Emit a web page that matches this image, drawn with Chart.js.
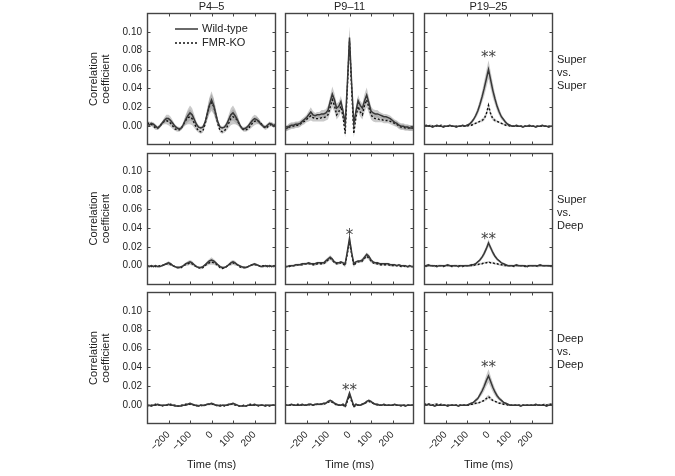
<!DOCTYPE html>
<html>
<head>
<meta charset="utf-8">
<script src="https://cdn.jsdelivr.net/npm/chart.js@4.4.1/dist/chart.umd.min.js"></script>
<style>
  html, body { margin: 0; padding: 0; background: #fff; }
  #wrap { position: relative; width: 675px; height: 476px; }
  #wrap canvas { position: absolute; left: 0; top: 0; }
</style>
</head>
<body>
<div id="wrap"></div>
<script>
// lag axis, shared by every panel
const timeMs = [
  -300, -290, -280, -270, -260, -250, -240, -230, -220, -210,
  -200, -190, -180, -170, -160, -150, -140, -130, -120, -110,
  -100, -90, -80, -70, -60, -50, -40, -30, -20, -10,
  0, 10, 20, 30, 40, 50, 60, 70, 80, 90,
  100, 110, 120, 130, 140, 150, 160, 170, 180, 190,
  200, 210, 220, 230, 240, 250, 260, 270, 280, 290,
  300
];
const xTicks = [-200, -100, 0, 100, 200];
const yTicks = [0, 0.02, 0.04, 0.06, 0.08, 0.10];
const ageGroups = ['P4–5', 'P9–11', 'P19–25'];
const pairings = [['Super', 'vs.', 'Super'], ['Super', 'vs.', 'Deep'], ['Deep', 'vs.', 'Deep']];
const seriesNames = ['Wild-type', 'FMR-KO'];

// --- Super vs. Super ---
const wtP45SupSup = [
  0.002, 0.001, 0.003, 0.002, 0.000, -0.002, 0.000, 0.003, 0.006, 0.008,
  0.008, 0.006, 0.003, 0.000, -0.002, -0.003, -0.002, 0.002, 0.007, 0.011,
  0.014, 0.012, 0.007, 0.002, -0.001, -0.002, -0.001, 0.004, 0.013, 0.022,
  0.028, 0.022, 0.013, 0.004, -0.001, -0.002, -0.001, 0.002, 0.007, 0.012,
  0.014, 0.011, 0.007, 0.002, -0.002, -0.003, -0.002, 0.000, 0.003, 0.006,
  0.008, 0.007, 0.005, 0.002, 0.000, -0.001, 0.001, 0.003, 0.002, 0.000,
  0.002
];
const koP45SupSup = [
  0.003, 0.003, 0.002, 0.000, -0.002, -0.002, 0.000, 0.003, 0.005, 0.006,
  0.005, 0.003, 0.000, -0.003, -0.004, -0.004, -0.002, 0.002, 0.006, 0.009,
  0.010, 0.008, 0.003, -0.002, -0.005, -0.006, -0.005, 0.002, 0.012, 0.021,
  0.025, 0.021, 0.012, 0.002, -0.005, -0.006, -0.005, -0.002, 0.003, 0.008,
  0.010, 0.009, 0.006, 0.002, -0.002, -0.004, -0.004, -0.003, 0.000, 0.003,
  0.005, 0.006, 0.005, 0.003, 0.000, -0.002, -0.001, 0.001, 0.002, 0.001,
  0.001
];
const semP45SupSup = [
  0.002, 0.002, 0.002, 0.002, 0.002, 0.002, 0.002, 0.002, 0.003, 0.004,
  0.004, 0.004, 0.003, 0.002, 0.002, 0.002, 0.002, 0.003, 0.005, 0.007,
  0.008, 0.007, 0.005, 0.003, 0.002, 0.002, 0.002, 0.003, 0.006, 0.008,
  0.009, 0.008, 0.006, 0.003, 0.002, 0.002, 0.002, 0.003, 0.005, 0.007,
  0.008, 0.007, 0.005, 0.003, 0.002, 0.002, 0.002, 0.002, 0.003, 0.004,
  0.004, 0.004, 0.003, 0.002, 0.002, 0.002, 0.002, 0.002, 0.002, 0.002,
  0.002
];
const wtP911SupSup = [
  -0.003, -0.002, 0.000, 0.001, 0.001, 0.002, 0.002, 0.003, 0.005, 0.007,
  0.009, 0.012, 0.015, 0.012, 0.011, 0.012, 0.012, 0.013, 0.013, 0.014,
  0.017, 0.026, 0.034, 0.028, 0.019, 0.021, 0.026, 0.016, 0.002, 0.045,
  0.094, 0.045, 0.002, 0.016, 0.027, 0.022, 0.019, 0.027, 0.033, 0.025,
  0.016, 0.014, 0.013, 0.013, 0.012, 0.011, 0.010, 0.010, 0.009, 0.008,
  0.006, 0.004, 0.003, 0.001, 0.000, 0.000, -0.001, -0.001, -0.002, -0.002,
  -0.002
];
const koP911SupSup = [
  -0.003, -0.002, -0.001, 0.000, 0.000, 0.001, 0.001, 0.002, 0.004, 0.005,
  0.007, 0.009, 0.011, 0.009, 0.008, 0.008, 0.008, 0.009, 0.009, 0.010,
  0.012, 0.020, 0.028, 0.022, 0.012, 0.015, 0.021, 0.010, -0.008, 0.040,
  0.090, 0.040, -0.008, 0.010, 0.021, 0.015, 0.012, 0.022, 0.028, 0.020,
  0.012, 0.009, 0.008, 0.008, 0.007, 0.007, 0.006, 0.006, 0.006, 0.005,
  0.004, 0.003, 0.002, 0.000, -0.001, -0.001, -0.002, -0.002, -0.002, -0.002,
  -0.002
];
const semP911SupSup = [
  0.003, 0.003, 0.003, 0.003, 0.003, 0.003, 0.003, 0.003, 0.003, 0.003,
  0.003, 0.004, 0.005, 0.004, 0.003, 0.003, 0.003, 0.004, 0.004, 0.004,
  0.005, 0.006, 0.008, 0.007, 0.005, 0.005, 0.006, 0.005, 0.004, 0.008,
  0.012, 0.008, 0.004, 0.005, 0.006, 0.005, 0.005, 0.007, 0.008, 0.006,
  0.005, 0.004, 0.004, 0.004, 0.003, 0.003, 0.003, 0.003, 0.003, 0.003,
  0.003, 0.003, 0.003, 0.003, 0.003, 0.003, 0.003, 0.003, 0.003, 0.003,
  0.003
];
const wtP1925SupSup = [
  0.000, 0.001, 0.000, 0.000, -0.001, 0.000, 0.001, 0.000, 0.000, -0.001,
  0.000, 0.000, 0.001, 0.000, 0.000, -0.001, 0.000, 0.000, 0.001, 0.000,
  0.001, 0.002, 0.004, 0.007, 0.011, 0.016, 0.023, 0.031, 0.040, 0.050,
  0.060, 0.049, 0.038, 0.029, 0.021, 0.015, 0.010, 0.007, 0.004, 0.002,
  0.001, 0.000, 0.000, 0.001, 0.000, 0.000, -0.001, 0.000, 0.000, 0.001,
  0.000, 0.000, -0.001, 0.000, 0.000, 0.001, 0.000, 0.000, -0.001, 0.000,
  0.000
];
const koP1925SupSup = [
  0.000, 0.000, 0.000, 0.001, 0.000, 0.000, 0.000, 0.000, 0.001, 0.000,
  0.000, 0.000, 0.000, 0.000, 0.000, 0.000, 0.000, 0.000, 0.000, 0.000,
  0.000, 0.001, 0.001, 0.002, 0.003, 0.004, 0.005, 0.006, 0.008, 0.013,
  0.022, 0.013, 0.008, 0.006, 0.005, 0.004, 0.003, 0.002, 0.001, 0.001,
  0.000, 0.000, 0.000, 0.000, 0.000, 0.000, 0.000, 0.000, 0.000, 0.000,
  0.000, 0.000, 0.000, 0.000, 0.000, 0.000, 0.000, 0.000, 0.000, 0.000,
  0.000
];
const semWtP1925SupSup = [
  0.001, 0.001, 0.001, 0.001, 0.001, 0.001, 0.001, 0.001, 0.001, 0.001,
  0.001, 0.001, 0.001, 0.001, 0.001, 0.001, 0.001, 0.001, 0.001, 0.001,
  0.001, 0.001, 0.002, 0.002, 0.003, 0.004, 0.005, 0.006, 0.008, 0.009,
  0.010, 0.009, 0.008, 0.006, 0.005, 0.004, 0.003, 0.002, 0.002, 0.001,
  0.001, 0.001, 0.001, 0.001, 0.001, 0.001, 0.001, 0.001, 0.001, 0.001,
  0.001, 0.001, 0.001, 0.001, 0.001, 0.001, 0.001, 0.001, 0.001, 0.001,
  0.001
];
const semKoP1925SupSup = [
  0.001, 0.001, 0.001, 0.001, 0.001, 0.001, 0.001, 0.001, 0.001, 0.001,
  0.001, 0.001, 0.001, 0.001, 0.001, 0.001, 0.001, 0.001, 0.001, 0.001,
  0.001, 0.001, 0.001, 0.001, 0.001, 0.001, 0.001, 0.002, 0.002, 0.003,
  0.004, 0.003, 0.002, 0.002, 0.001, 0.001, 0.001, 0.001, 0.001, 0.001,
  0.001, 0.001, 0.001, 0.001, 0.001, 0.001, 0.001, 0.001, 0.001, 0.001,
  0.001, 0.001, 0.001, 0.001, 0.001, 0.001, 0.001, 0.001, 0.001, 0.001,
  0.001
];

// --- Super vs. Deep ---
const wtP45SupDeep = [
  0.000, -0.001, 0.000, -0.001, 0.000, -0.001, -0.001, 0.000, 0.001, 0.002,
  0.003, 0.002, 0.000, -0.001, -0.002, -0.002, -0.001, 0.000, 0.002, 0.003,
  0.004, 0.003, 0.001, -0.001, -0.002, -0.002, -0.001, 0.001, 0.003, 0.005,
  0.006, 0.005, 0.003, 0.001, -0.001, -0.002, -0.002, -0.001, 0.001, 0.003,
  0.004, 0.003, 0.001, 0.000, -0.001, -0.002, -0.002, -0.001, 0.000, 0.001,
  0.002, 0.001, 0.000, -0.001, -0.001, 0.000, -0.001, 0.000, -0.001, 0.000,
  0.000
];
const koP45SupDeep = [
  -0.001, 0.000, -0.001, 0.000, -0.001, -0.001, 0.000, 0.000, 0.001, 0.002,
  0.002, 0.001, 0.000, -0.001, -0.002, -0.002, -0.002, 0.000, 0.001, 0.002,
  0.003, 0.002, 0.000, -0.001, -0.002, -0.003, -0.002, 0.000, 0.002, 0.003,
  0.004, 0.003, 0.002, 0.000, -0.002, -0.003, -0.002, -0.001, 0.001, 0.002,
  0.003, 0.002, 0.001, -0.001, -0.002, -0.002, -0.002, -0.001, 0.000, 0.001,
  0.001, 0.001, 0.000, -0.001, 0.000, -0.001, 0.000, -0.001, 0.000, -0.001,
  0.000
];
const semP45SupDeep = [
  0.001, 0.001, 0.001, 0.001, 0.001, 0.001, 0.001, 0.001, 0.001, 0.001,
  0.002, 0.001, 0.001, 0.001, 0.001, 0.001, 0.001, 0.001, 0.001, 0.002,
  0.002, 0.002, 0.001, 0.001, 0.001, 0.001, 0.001, 0.001, 0.002, 0.002,
  0.003, 0.002, 0.002, 0.001, 0.001, 0.001, 0.001, 0.001, 0.001, 0.002,
  0.002, 0.002, 0.001, 0.001, 0.001, 0.001, 0.001, 0.001, 0.001, 0.001,
  0.001, 0.001, 0.001, 0.001, 0.001, 0.001, 0.001, 0.001, 0.001, 0.001,
  0.001
];
const wtP911SupDeep = [
  -0.001, -0.001, 0.000, 0.000, 0.000, 0.001, 0.001, 0.001, 0.002, 0.002,
  0.002, 0.003, 0.002, 0.002, 0.002, 0.003, 0.003, 0.003, 0.003, 0.005,
  0.007, 0.009, 0.007, 0.004, 0.003, 0.003, 0.004, 0.003, 0.002, 0.015,
  0.029, 0.014, 0.002, 0.004, 0.005, 0.005, 0.006, 0.009, 0.012, 0.010,
  0.006, 0.004, 0.003, 0.003, 0.002, 0.002, 0.002, 0.002, 0.002, 0.001,
  0.001, 0.001, 0.000, 0.001, 0.000, 0.000, 0.000, -0.001, 0.000, -0.001,
  -0.001
];
const koP911SupDeep = [
  -0.001, -0.001, -0.001, 0.000, 0.000, 0.000, 0.001, 0.001, 0.001, 0.002,
  0.002, 0.002, 0.002, 0.001, 0.001, 0.002, 0.002, 0.002, 0.002, 0.004,
  0.006, 0.008, 0.006, 0.003, 0.002, 0.002, 0.003, 0.002, 0.000, 0.013,
  0.025, 0.012, 0.000, 0.003, 0.004, 0.004, 0.005, 0.008, 0.010, 0.008,
  0.005, 0.003, 0.002, 0.002, 0.001, 0.001, 0.001, 0.001, 0.001, 0.000,
  0.000, 0.000, 0.000, 0.000, -0.001, 0.000, -0.001, -0.001, -0.001, -0.001,
  -0.001
];
const semP911SupDeep = [
  0.001, 0.001, 0.001, 0.001, 0.001, 0.001, 0.001, 0.001, 0.001, 0.001,
  0.001, 0.001, 0.001, 0.001, 0.001, 0.001, 0.001, 0.001, 0.001, 0.002,
  0.002, 0.002, 0.002, 0.001, 0.001, 0.001, 0.001, 0.001, 0.002, 0.003,
  0.004, 0.003, 0.002, 0.001, 0.001, 0.001, 0.002, 0.002, 0.002, 0.002,
  0.002, 0.001, 0.001, 0.001, 0.001, 0.001, 0.001, 0.001, 0.001, 0.001,
  0.001, 0.001, 0.001, 0.001, 0.001, 0.001, 0.001, 0.001, 0.001, 0.001,
  0.001
];
const wtP1925SupDeep = [
  0.000, 0.000, 0.001, 0.000, 0.000, 0.000, -0.001, 0.000, 0.000, 0.000,
  0.000, 0.001, 0.000, 0.000, 0.000, 0.000, -0.001, 0.000, 0.000, 0.000,
  0.000, 0.000, 0.001, 0.001, 0.002, 0.004, 0.006, 0.009, 0.013, 0.018,
  0.024, 0.019, 0.014, 0.010, 0.007, 0.005, 0.003, 0.002, 0.001, 0.000,
  0.000, 0.000, 0.000, 0.001, 0.000, 0.000, 0.000, 0.000, -0.001, 0.000,
  0.000, 0.000, 0.000, 0.000, 0.001, 0.000, 0.000, 0.000, 0.000, 0.000,
  0.000
];
const koP1925SupDeep = [
  0.000, -0.001, 0.000, 0.000, 0.000, -0.001, 0.000, 0.000, 0.000, -0.001,
  0.000, 0.000, 0.000, -0.001, 0.000, 0.000, 0.000, 0.000, -0.001, 0.000,
  0.000, 0.000, 0.000, 0.000, 0.001, 0.001, 0.002, 0.002, 0.003, 0.003,
  0.004, 0.003, 0.003, 0.002, 0.002, 0.001, 0.001, 0.000, 0.000, 0.000,
  0.000, 0.000, -0.001, 0.000, 0.000, 0.000, 0.000, -0.001, 0.000, 0.000,
  0.000, 0.000, 0.000, -0.001, 0.000, 0.000, 0.000, 0.000, 0.000, -0.001,
  0.000
];
const semWtP1925SupDeep = [
  0.001, 0.001, 0.001, 0.001, 0.001, 0.001, 0.001, 0.001, 0.001, 0.001,
  0.001, 0.001, 0.001, 0.001, 0.001, 0.001, 0.001, 0.001, 0.001, 0.001,
  0.001, 0.001, 0.001, 0.001, 0.001, 0.001, 0.002, 0.002, 0.003, 0.003,
  0.004, 0.003, 0.003, 0.002, 0.002, 0.001, 0.001, 0.001, 0.001, 0.001,
  0.001, 0.001, 0.001, 0.001, 0.001, 0.001, 0.001, 0.001, 0.001, 0.001,
  0.001, 0.001, 0.001, 0.001, 0.001, 0.001, 0.001, 0.001, 0.001, 0.001,
  0.001
];

// --- Deep vs. Deep ---
const wtP45DeepDeep = [
  0.000, 0.000, -0.001, 0.000, 0.000, 0.001, 0.000, 0.000, 0.000, 0.000,
  0.001, 0.000, 0.000, -0.001, -0.001, -0.001, -0.001, 0.000, 0.000, 0.001,
  0.002, 0.001, 0.000, 0.000, -0.001, 0.000, 0.000, 0.000, 0.001, 0.001,
  0.002, 0.001, 0.000, 0.000, -0.001, 0.000, 0.000, 0.000, 0.001, 0.001,
  0.002, 0.001, 0.000, -0.001, -0.001, -0.001, -0.001, 0.000, 0.000, 0.000,
  0.001, 0.000, 0.000, 0.000, 0.000, -0.001, 0.000, 0.000, 0.000, 0.000,
  0.000
];
const koP45DeepDeep = [
  0.000, -0.001, 0.000, 0.000, 0.001, 0.000, 0.000, -0.001, 0.000, 0.000,
  0.000, 0.001, 0.000, 0.000, -0.001, -0.001, 0.000, 0.000, 0.001, 0.001,
  0.001, 0.001, 0.000, -0.001, 0.000, 0.000, -0.001, 0.000, 0.001, 0.001,
  0.001, 0.001, 0.000, -0.001, 0.000, 0.000, -0.001, 0.000, 0.000, 0.001,
  0.001, 0.000, 0.000, -0.001, -0.001, 0.000, -0.001, 0.000, 0.001, 0.000,
  0.000, 0.000, -0.001, 0.000, 0.000, 0.000, 0.000, -0.001, 0.000, 0.000,
  0.000
];
const wtP911DeepDeep = [
  0.000, 0.000, 0.000, 0.001, 0.000, 0.000, 0.000, 0.000, 0.001, 0.000,
  0.000, 0.001, 0.001, 0.000, 0.001, 0.001, 0.001, 0.001, 0.002, 0.002,
  0.004, 0.005, 0.004, 0.002, 0.001, 0.000, 0.000, 0.001, -0.001, 0.006,
  0.013, 0.006, -0.001, 0.001, 0.000, 0.000, 0.001, 0.002, 0.004, 0.005,
  0.004, 0.002, 0.001, 0.001, 0.000, 0.000, 0.001, 0.000, 0.000, 0.000,
  0.000, 0.001, 0.000, 0.000, 0.000, 0.000, -0.001, 0.000, 0.000, 0.000,
  0.000
];
const koP911DeepDeep = [
  0.000, 0.000, 0.000, 0.000, 0.000, 0.000, 0.001, 0.000, 0.000, 0.000,
  0.000, 0.000, 0.001, 0.000, 0.000, 0.001, 0.001, 0.001, 0.001, 0.002,
  0.003, 0.004, 0.003, 0.002, 0.000, 0.000, 0.000, 0.000, -0.002, 0.004,
  0.010, 0.004, -0.002, 0.000, 0.000, 0.000, 0.001, 0.002, 0.003, 0.004,
  0.003, 0.002, 0.001, 0.000, 0.000, 0.000, 0.000, 0.000, 0.000, 0.000,
  0.000, 0.000, 0.000, 0.000, -0.001, 0.000, 0.000, 0.000, 0.000, 0.000,
  0.000
];
const semP911DeepDeep = [
  0.001, 0.001, 0.001, 0.001, 0.001, 0.001, 0.001, 0.001, 0.001, 0.001,
  0.001, 0.001, 0.001, 0.001, 0.001, 0.001, 0.001, 0.001, 0.001, 0.001,
  0.001, 0.001, 0.001, 0.001, 0.001, 0.001, 0.001, 0.001, 0.001, 0.001,
  0.002, 0.001, 0.001, 0.001, 0.001, 0.001, 0.001, 0.001, 0.001, 0.001,
  0.001, 0.001, 0.001, 0.001, 0.001, 0.001, 0.001, 0.001, 0.001, 0.001,
  0.001, 0.001, 0.001, 0.001, 0.001, 0.001, 0.001, 0.001, 0.001, 0.001,
  0.001
];
const wtP1925DeepDeep = [
  0.000, 0.000, 0.001, 0.000, 0.000, -0.001, 0.000, 0.000, 0.000, 0.000,
  0.000, -0.001, 0.000, 0.000, 0.000, 0.000, -0.001, 0.000, 0.000, 0.000,
  0.000, 0.001, 0.002, 0.003, 0.005, 0.007, 0.011, 0.015, 0.020, 0.026,
  0.031, 0.025, 0.019, 0.014, 0.010, 0.007, 0.005, 0.003, 0.002, 0.001,
  0.000, 0.000, 0.000, 0.000, 0.000, -0.001, 0.000, 0.000, 0.000, 0.000,
  0.000, 0.000, 0.001, 0.000, 0.000, 0.000, 0.000, -0.001, 0.000, 0.000,
  0.000
];
const koP1925DeepDeep = [
  0.001, 0.001, 0.001, 0.001, 0.000, 0.001, 0.001, 0.000, 0.001, 0.000,
  0.000, 0.000, 0.000, 0.000, 0.000, 0.000, 0.000, 0.000, 0.000, 0.000,
  0.000, 0.000, 0.001, 0.001, 0.002, 0.002, 0.003, 0.004, 0.005, 0.007,
  0.009, 0.007, 0.005, 0.004, 0.003, 0.002, 0.002, 0.001, 0.001, 0.000,
  0.000, 0.000, 0.000, 0.000, 0.000, 0.000, 0.000, 0.000, 0.000, 0.000,
  0.000, 0.000, 0.000, 0.000, 0.000, 0.000, 0.001, 0.000, 0.001, 0.001,
  0.001
];
const semWtP1925DeepDeep = [
  0.001, 0.001, 0.001, 0.001, 0.001, 0.001, 0.001, 0.001, 0.001, 0.001,
  0.001, 0.001, 0.001, 0.001, 0.001, 0.001, 0.001, 0.001, 0.001, 0.001,
  0.001, 0.001, 0.001, 0.001, 0.002, 0.002, 0.003, 0.004, 0.005, 0.006,
  0.007, 0.006, 0.005, 0.004, 0.003, 0.002, 0.002, 0.001, 0.001, 0.001,
  0.001, 0.001, 0.001, 0.001, 0.001, 0.001, 0.001, 0.001, 0.001, 0.001,
  0.001, 0.001, 0.001, 0.001, 0.001, 0.001, 0.001, 0.001, 0.001, 0.001,
  0.001
];
const semKoP1925DeepDeep = [
  0.001, 0.001, 0.001, 0.001, 0.001, 0.001, 0.001, 0.001, 0.001, 0.001,
  0.001, 0.001, 0.001, 0.001, 0.001, 0.001, 0.001, 0.001, 0.001, 0.001,
  0.001, 0.001, 0.001, 0.001, 0.001, 0.001, 0.001, 0.001, 0.001, 0.002,
  0.002, 0.002, 0.001, 0.001, 0.001, 0.001, 0.001, 0.001, 0.001, 0.001,
  0.001, 0.001, 0.001, 0.001, 0.001, 0.001, 0.001, 0.001, 0.001, 0.001,
  0.001, 0.001, 0.001, 0.001, 0.001, 0.001, 0.001, 0.001, 0.001, 0.001,
  0.001
];
const semFlat = [
  0.001, 0.001, 0.001, 0.001, 0.001, 0.001, 0.001, 0.001, 0.001, 0.001,
  0.001, 0.001, 0.001, 0.001, 0.001, 0.001, 0.001, 0.001, 0.001, 0.001,
  0.001, 0.001, 0.001, 0.001, 0.001, 0.001, 0.001, 0.001, 0.001, 0.001,
  0.001, 0.001, 0.001, 0.001, 0.001, 0.001, 0.001, 0.001, 0.001, 0.001,
  0.001, 0.001, 0.001, 0.001, 0.001, 0.001, 0.001, 0.001, 0.001, 0.001,
  0.001, 0.001, 0.001, 0.001, 0.001, 0.001, 0.001, 0.001, 0.001, 0.001,
  0.001
];

// significance marks: [row, col, text, correlation level of the mark]
const sigMarks = [
  [0, 2, '**', 0.0775],
  [1, 1, '*', 0.036],
  [1, 2, '**', 0.0325],
  [2, 1, '**', 0.0195],
  [2, 2, '**', 0.0443]
];

const panels = [
  {row: 0, col: 0, wt: wtP45SupSup, ko: koP45SupSup, semWt: semP45SupSup, semKo: semP45SupSup},
  {row: 0, col: 1, wt: wtP911SupSup, ko: koP911SupSup, semWt: semP911SupSup, semKo: semP911SupSup},
  {row: 0, col: 2, wt: wtP1925SupSup, ko: koP1925SupSup, semWt: semWtP1925SupSup, semKo: semKoP1925SupSup},
  {row: 1, col: 0, wt: wtP45SupDeep, ko: koP45SupDeep, semWt: semP45SupDeep, semKo: semP45SupDeep},
  {row: 1, col: 1, wt: wtP911SupDeep, ko: koP911SupDeep, semWt: semP911SupDeep, semKo: semP911SupDeep},
  {row: 1, col: 2, wt: wtP1925SupDeep, ko: koP1925SupDeep, semWt: semWtP1925SupDeep, semKo: semFlat},
  {row: 2, col: 0, wt: wtP45DeepDeep, ko: koP45DeepDeep, semWt: semFlat, semKo: semFlat},
  {row: 2, col: 1, wt: wtP911DeepDeep, ko: koP911DeepDeep, semWt: semP911DeepDeep, semKo: semP911DeepDeep},
  {row: 2, col: 2, wt: wtP1925DeepDeep, ko: koP1925DeepDeep, semWt: semWtP1925DeepDeep, semKo: semKoP1925DeepDeep}
];

// page geometry of the 3x3 grid
const colLeft = [147, 285, 424];
const rowTop = [13, 152.5, 292];
const panelW = 129;
const panelH = 132;
const pageW = 675, pageH = 476;
const yAxisW = 59.5;
const xAxisH = 47.6;

const FONT = "'Liberation Sans', Arial, sans-serif";
const TEXT = '#222';
const BAND = 'rgba(150,150,150,0.5)';
const WT_COLOR = '#383838';
const KO_COLOR = '#111';

Chart.defaults.font.family = FONT;
Chart.defaults.color = TEXT;

function pts(vals, sem, sign) {
  return timeMs.map((t, i) => ({x: t, y: vals[i] + sign * sem[i]}));
}

function decor(p) {
  return {
    id: 'decor',
    afterDraw(chart) {
      const {ctx, chartArea: a, scales: {x, y}} = chart;
      const L = Math.round(a.left) + 0.5, R = Math.round(a.right) - 0.5;
      const T = Math.round(a.top) + 0.5, B = Math.round(a.bottom) - 0.5;
      ctx.save();
      ctx.strokeStyle = '#444';
      ctx.lineWidth = 1.4;
      ctx.strokeRect(L, T, R - L, B - T);
      // inward tick marks on all four sides
      ctx.lineWidth = 1;
      ctx.beginPath();
      x.ticks.forEach(t => {
        const px = Math.round(x.getPixelForValue(t.value)) + 0.5;
        ctx.moveTo(px, T); ctx.lineTo(px, T + 3);
        ctx.moveTo(px, B); ctx.lineTo(px, B - 3);
      });
      y.ticks.forEach(t => {
        const py = Math.round(y.getPixelForValue(t.value)) + 0.5;
        ctx.moveTo(L, py); ctx.lineTo(L + 3, py);
        ctx.moveTo(R, py); ctx.lineTo(R - 3, py);
      });
      ctx.stroke();

      ctx.fillStyle = TEXT;
      ctx.font = '11px ' + FONT;
      ctx.textBaseline = 'middle';
      ctx.textAlign = 'left';

      // pairing label at the right of the last column
      if (p.col === 2) {
        pairings[p.row].forEach((s, i) => ctx.fillText(s, a.right + 4, a.top + 47 + i * 13));
      }

      // legend inside the first panel
      if (p.row === 0 && p.col === 0) {
        const dash = [[], [2, 2]];
        const col = [WT_COLOR, KO_COLOR];
        seriesNames.forEach((name, i) => {
          const ly = a.top + 16 + i * 14;
          ctx.beginPath();
          ctx.setLineDash(dash[i]);
          ctx.strokeStyle = col[i];
          ctx.lineWidth = 1.5;
          ctx.moveTo(a.left + 28, ly);
          ctx.lineTo(a.left + 51, ly);
          ctx.stroke();
          ctx.setLineDash([]);
          ctx.fillText(name, a.left + 55, ly);
        });
      }

      // significance stars
      ctx.textAlign = 'center';
      ctx.textBaseline = 'alphabetic';
      ctx.font = "15px 'DejaVu Sans'";
      ctx.fillStyle = '#444';
      sigMarks.filter(m => m[0] === p.row && m[1] === p.col).forEach(m => {
        ctx.fillText(m[2], x.getPixelForValue(0), y.getPixelForValue(m[3]) + 8.7);
      });
      ctx.restore();
    }
  };
}

const wrap = document.getElementById('wrap');

panels.forEach(p => {
  const canvas = document.createElement('canvas');
  canvas.width = pageW;
  canvas.height = pageH;
  wrap.appendChild(canvas);

  const isLeft = p.col === 0;
  const isBottom = p.row === 2;
  const isTop = p.row === 0;
  const left = colLeft[p.col];
  const top = rowTop[p.row];

  new Chart(canvas, {
    type: 'line',
    data: {
      datasets: [
        {label: seriesNames[0], data: pts(p.wt, p.wt, 0), borderColor: WT_COLOR, borderWidth: 1.5, order: 0},
        {label: seriesNames[1], data: pts(p.ko, p.ko, 0), borderColor: KO_COLOR, borderWidth: 1.4, borderDash: [2, 2], order: 0},
        {label: 'wt+', data: pts(p.wt, p.semWt, 1), borderColor: 'rgba(0,0,0,0)', backgroundColor: BAND, fill: '+1', order: 1},
        {label: 'wt-', data: pts(p.wt, p.semWt, -1), borderColor: 'rgba(0,0,0,0)', order: 1},
        {label: 'ko+', data: pts(p.ko, p.semKo, 1), borderColor: 'rgba(0,0,0,0)', backgroundColor: BAND, fill: '+1', order: 1},
        {label: 'ko-', data: pts(p.ko, p.semKo, -1), borderColor: 'rgba(0,0,0,0)', order: 1}
      ]
    },
    options: {
      responsive: false,
      animation: false,
      events: [],
      elements: {
        point: {radius: 0},
        line: {tension: 0, fill: false}
      },
      layout: {
        autoPadding: false,
        padding: {
          left: left - (isLeft ? yAxisW : 0),
          right: pageW - left - panelW,
          top: isTop ? 1 : top,
          bottom: pageH - top - panelH - (isBottom ? xAxisH : 0)
        }
      },
      scales: {
        x: {
          type: 'linear',
          min: -300,
          max: 300,
          grid: {display: false, drawTicks: false},
          border: {display: false},
          afterBuildTicks: s => { s.ticks = xTicks.map(v => ({value: v})); },
          afterFit: s => { s.height = isBottom ? xAxisH : 0; },
          ticks: {
            display: isBottom,
            autoSkip: false,
            minRotation: 45,
            maxRotation: 45,
            padding: 5,
            font: {size: 10},
            callback: v => (v < 0 ? '\u2212' + Math.abs(v) : String(v))
          },
          title: {
            display: isBottom,
            text: 'Time (ms)',
            font: {size: 11, lineHeight: 1.2},
            padding: 0
          }
        },
        y: {
          min: -0.02,
          max: 0.12,
          grid: {display: false, drawTicks: false},
          border: {display: false},
          afterBuildTicks: s => { s.ticks = yTicks.map(v => ({value: v})); },
          afterFit: s => { s.width = isLeft ? yAxisW : 0; },
          ticks: {
            display: isLeft,
            padding: 5,
            font: {size: 10},
            callback: v => v.toFixed(2)
          },
          title: {
            display: isLeft,
            text: ['Correlation', 'coefficient'],
            font: {size: 11, lineHeight: 1.1},
            padding: 0
          }
        }
      },
      plugins: {
        legend: {display: false},
        tooltip: {enabled: false},
        title: {
          display: isTop,
          text: ageGroups[p.col],
          fullSize: false,
          font: {size: 11, weight: 'normal', lineHeight: 1},
          color: TEXT,
          padding: {top: 0, bottom: 1}
        }
      }
    },
    plugins: [decor(p)]
  });
});
</script>
</body>
</html>
